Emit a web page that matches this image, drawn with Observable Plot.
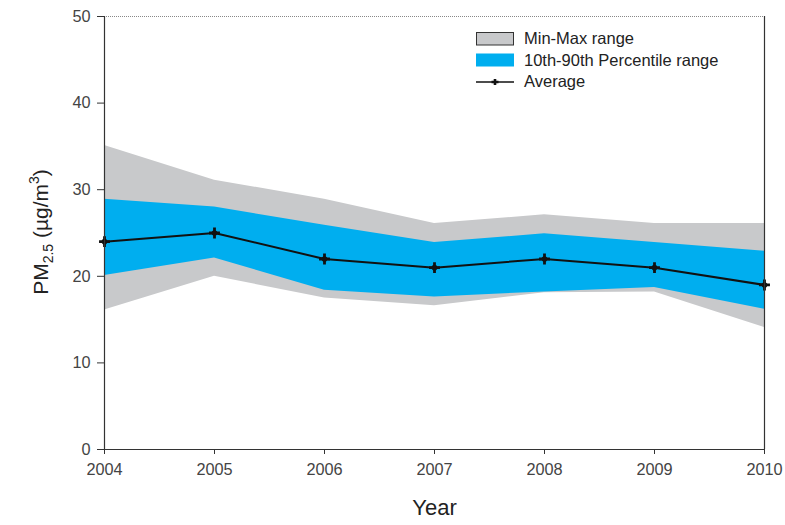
<!DOCTYPE html>
<html><head><meta charset="utf-8">
<script src="https://cdn.jsdelivr.net/npm/d3@7"></script>
<script src="https://cdn.jsdelivr.net/npm/@observablehq/plot@0.6"></script>
<style>
body{margin:0;background:#fff;font-family:"Liberation Sans",Arial,sans-serif;}
#wrap{position:relative;width:785px;height:525px;}
.legend{position:absolute;left:476px;top:28px;font-size:16.5px;color:#222;line-height:21.5px;}
.legend .row{display:flex;align-items:center;height:21.5px;}
.legend svg{margin-right:10px;}
</style></head>
<body><div id="wrap"></div>
<script>
const years = [2004, 2005, 2006, 2007, 2008, 2009, 2010];
const maxV = [35.1, 31.1, 28.9, 26.1, 27.1, 26.1, 26.1];
const p90V = [28.9, 28.0, 25.9, 23.9, 24.9, 23.9, 22.9];
const p10V = [20.1, 22.1, 18.4, 17.6, 18.2, 18.7, 16.2];
const minV = [16.1, 20.0, 17.5, 16.6, 18.1, 18.2, 14.1];
const avgV = [24, 25, 22, 21, 22, 21, 19];
const yTicks = [0, 10, 20, 30, 40, 50];
const legendLabels = ["Min-Max range", "10th-90th Percentile range", "Average"];

const data = years.map((year, i) => ({year, max: maxV[i], p90: p90V[i], p10: p10V[i], min: minV[i], avg: avgV[i]}));

const axisColor = "#333";
const chart = Plot.plot({
  width: 785, height: 525,
  marginLeft: 104, marginRight: 21, marginTop: 16, marginBottom: 76,
  style: {fontFamily: "Liberation Sans, Arial, sans-serif", fontSize: "16.5px", background: "#fff", color: "#444"},
  x: {domain: [2004, 2010], label: null},
  y: {domain: [0, 50], label: null},
  marks: [
    Plot.areaY(data, {x: "year", y1: "min", y2: "max", fill: "#c8c9cb"}),
    Plot.areaY(data, {x: "year", y1: "p10", y2: "p90", fill: "#00aeef"}),
    Plot.lineY(data, {x: "year", y: "avg", stroke: "#111", strokeWidth: 2}),
    Plot.dot(data, {x: "year", y: "avg", r: 2.8, fill: "#111"}),
    Plot.dot(data, {x: "year", y: "avg", symbol: "plus", r: 3.6, stroke: "#111", strokeWidth: 2.8}),
    Plot.ruleY([50], {stroke: "#888", strokeWidth: 1, strokeDasharray: "1,1"}),
    Plot.ruleY([0], {stroke: axisColor, strokeWidth: 1.2}),
    Plot.ruleX([2004, 2010], {stroke: axisColor, strokeWidth: 1.2}),
    Plot.axisX({ticks: years, tickFormat: d => String(d), tickSize: 5, tickPadding: 9, stroke: axisColor, fill: "#444", label: null}),
    Plot.axisY({ticks: yTicks, tickSize: 7, tickPadding: 7, stroke: axisColor, fill: "#444", label: null}),
    Plot.text(["Year"], {frameAnchor: "bottom", dy: 65, fill: "#222"})
  ]
});

const svg = d3.select(chart);
// enforce font sizes on all text; Year label larger
svg.selectAll("text").attr("font-size", null).style("font-size", "16.3px");
svg.selectAll("g").attr("font-size", null);
svg.selectAll("text").filter(function() { return this.textContent === "Year"; }).style("font-size", "22px");

// y-axis label with subscript / superscript
const yl = svg.append("text")
  .attr("transform", "translate(48,232) rotate(-90)")
  .attr("text-anchor", "middle")
  .attr("fill", "#222")
  .style("font-size", "21px");
yl.append("tspan").text("PM");
yl.append("tspan").attr("dy", 5).style("font-size", "14px").text("2.5");
yl.append("tspan").attr("dy", -5).text(" (µg/m");
yl.append("tspan").attr("dy", -9).style("font-size", "14px").text("3");
yl.append("tspan").attr("dy", 9).text(")");

const wrap = document.getElementById("wrap");
wrap.appendChild(chart);

// legend
const legend = document.createElement("div");
legend.className = "legend";
const swatches = [
  `<svg width="38" height="14"><rect x="0.5" y="0.5" width="37" height="12.5" fill="#c8c9cb" stroke="#333" stroke-width="1"/></svg>`,
  `<svg width="38" height="14"><rect x="0" y="0.5" width="38" height="13" fill="#00aeef"/></svg>`,
  `<svg width="38" height="14"><line x1="0" x2="38" y1="7" y2="7" stroke="#111" stroke-width="1.6"/><path d="M15.5,7H22.5M19,4V10" stroke="#111" stroke-width="2.6"/></svg>`
];
legendLabels.forEach((lab, i) => {
  const row = document.createElement("div");
  row.className = "row";
  row.innerHTML = swatches[i] + `<span>${lab}</span>`;
  legend.appendChild(row);
});
wrap.appendChild(legend);
</script>
</body></html>
